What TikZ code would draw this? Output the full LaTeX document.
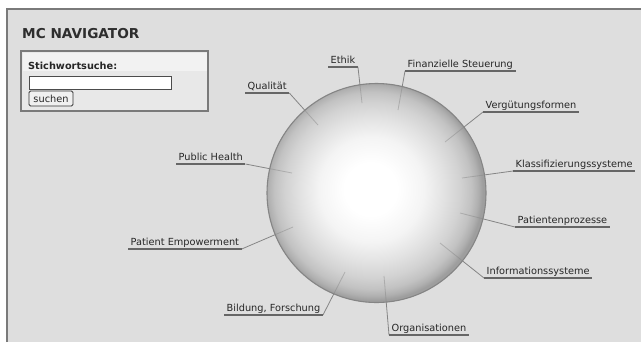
\documentclass[tikz,border=0pt]{standalone}
\usepackage{fontspec}
\setmainfont{DejaVu Sans}
\usetikzlibrary{calc}
\definecolor{panelgray}{HTML}{DEDEDE}
\definecolor{framegray}{HTML}{7A7A7A}
\definecolor{textgray}{HTML}{262626}
\definecolor{linegray}{HTML}{666666}
\definecolor{conngray}{HTML}{858585}
\definecolor{rimgray}{HTML}{858585}
\definecolor{sphA}{HTML}{F4F4F4}
\definecolor{sphB}{HTML}{E2E2E2}
\definecolor{sphC}{HTML}{D2D2D2}
\definecolor{sphD}{HTML}{C2C2C2}
\definecolor{sphE}{HTML}{B0B0B0}
\definecolor{sphF}{HTML}{9E9E9E}
% the ball edge sits at 25bp of the shading
\pgfdeclareradialshading{spherefill}{\pgfpoint{-1.5bp}{1bp}}{color(0bp)=(white); color(6bp)=(white); color(12bp)=(sphA); color(16.5bp)=(sphB); color(20bp)=(sphC); color(22.5bp)=(sphD); color(24bp)=(sphE); color(25bp)=(sphF); color(50bp)=(sphF)}
\tikzstyle{lbl} = [anchor=south west, inner xsep=2.5bp, inner ysep=1bp, text height=7.5bp, text depth=2.5bp, font=\fontsize{9.8}{11}\selectfont, text=textgray]
\tikzstyle{uline} = [draw=linegray, line width=1.1bp]
\tikzstyle{conn} = [draw=conngray, line width=0.8bp]
\tikzstyle{field} = [draw=black!70, fill=white, line width=0.9bp, minimum width=142bp, minimum height=13bp, inner sep=0]
\tikzstyle{btn} = [draw=black!80, fill=white!94!black, line width=0.9bp, rounded corners=1.5bp, minimum width=44bp, minimum height=15bp, inner sep=0, font=\fontsize{9.8}{11}\selectfont, text=textgray]

\begin{document}
\begin{tikzpicture}[x=1bp,y=-1bp]
\useasboundingbox (0,0) rectangle (641,342);
\fill [white] (0,0) rectangle (641,342);
\fill [panelgray] (7,9) rectangle (641,342);
\draw [framegray, line width=2bp] (7,342) -- (7,9) -- (641,9);
%
\draw (22,38) node (title) [anchor=base west, inner sep=0, font=\fontsize{13.7}{15}\bfseries\selectfont, text=black!82] {MC NAVIGATOR};
\draw [framegray, line width=1.3bp, fill=white!91!black] (21,51) rectangle (208,111);
\fill [white!95!black] (22.5,52.5) rectangle (206.5,71);
\draw (28,69) node (stich) [anchor=base west, inner sep=0, font=\fontsize{9.8}{11}\bfseries\selectfont, text=textgray] {Stichwortsuche:};
\draw (100,82.5) node (feld) [field] {};
\draw (51,98.5) node (suchen) [btn] {suchen};
%
\draw (328,67) node (ethik) [lbl] {Ethik};
\draw (405,71) node (finanz) [lbl] {Finanzielle Steuerung};
\draw (483,112) node (verg) [lbl] {Vergütungsformen};
\draw (513,171) node (klass) [lbl] {Klassifizierungssysteme};
\draw (515,227) node (patproz) [lbl] {Patientenprozesse};
\draw (484,278) node (info) [lbl] {Informationssysteme};
\draw (389,335) node (orga) [lbl] {Organisationen};
\draw (224,315) node (bildung) [lbl] {Bildung, Forschung};
\draw (128,249) node (patemp) [lbl] {Patient Empowerment};
\draw (176,164) node (public) [lbl] {Public Health};
\draw (245,93) node (quali) [lbl] {Qualität};
%
\coordinate (c-ethik) at (362,103);
\coordinate (c-finanz) at (398,110);
\coordinate (c-verg) at (445,142);
\coordinate (c-klass) at (462,178);
\coordinate (c-patproz) at (460,213);
\coordinate (c-info) at (440,243);
\coordinate (c-orga) at (384,276);
\coordinate (c-bildung) at (345,272);
\coordinate (c-patemp) at (293,227);
\coordinate (c-public) at (292,173);
\coordinate (c-quali) at (318,125);
\shade [shading=spherefill] (376.5,193) circle (109.5bp);
\draw [conn] (ethik.south east) -- (c-ethik);
\draw [conn] (finanz.south west) -- (c-finanz);
\draw [conn] (verg.south west) -- (c-verg);
\draw [conn] (klass.south west) -- (c-klass);
\draw [conn] (patproz.south west) -- (c-patproz);
\draw [conn] (info.south west) -- (c-info);
\draw [conn] (orga.south west) -- (c-orga);
\draw [conn] (bildung.south east) -- (c-bildung);
\draw [conn] (patemp.south east) -- (c-patemp);
\draw [conn] (public.south east) -- (c-public);
\draw [conn] (quali.south east) -- (c-quali);
\foreach \n in {ethik,finanz,verg,klass,patproz,info,orga,bildung,patemp,public,quali}
  \draw [uline] (\n.south west) -- (\n.south east);
% inner ends fade into the ball
\begin{scope}
\clip (376.5,193) circle (109.5bp);
\shade [shading=spherefill, opacity=0.55] (376.5,193) circle (109.5bp);
\end{scope}
\draw [rimgray, line width=1.1bp] (376.5,193) circle (109.5bp);
\end{tikzpicture}
\end{document}
